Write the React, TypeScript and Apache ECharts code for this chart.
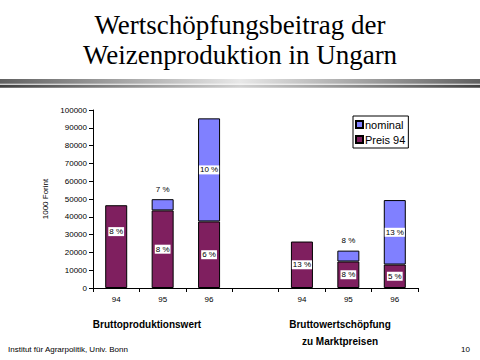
import React, { useEffect, useRef } from "react";
import * as echarts from "echarts";

const categories = ["94", "95", "96", "", "94", "95", "96"];
const preis94 = [46500, 43600, 37400, null, 26100, 14900, 13200];
const nominalExtra = [null, 6300, 57900, null, null, 6100, 36200];
const preisLabels = ["8 %", "8 %", "6 %", "", "13 %", "8 %", "5 %"];
const nominalLabels = ["", "7 %", "10 %", "", "", "8 %", "13 %"];
const yTicks = { min: 0, max: 100000, interval: 10000 };

const PREIS_COLOR = "#7f1f5f";
const NOM_COLOR = "#8080ff";

export default function App() {
  const ref = useRef<HTMLDivElement>(null);
  useEffect(() => {
    if (!ref.current) return;
    const chart = echarts.init(ref.current, null, { renderer: "svg" });
    const boxLabel = {
      show: true,
      position: "inside",
      color: "#000",
      backgroundColor: "#fff",
      fontFamily: "Liberation Sans",
      fontSize: 8,
      padding: [1, 1, 0, 1],
    };
    const preisData = preis94.map((v, i) => ({
      value: v,
      label: {
        ...boxLabel,
        formatter: preisLabels[i],
        show: !!preisLabels[i],
        offset: i === 0 ? [0, -15] : [0, 0],
      },
    }));
    const nomData = nominalExtra.map((v, i) => {
      const small = v != null && v < 10000;
      return {
        value: v,
        label: small
          ? {
              show: !!nominalLabels[i],
              position: "top",
              distance: 6,
              formatter: nominalLabels[i],
              color: "#000",
              fontFamily: "Liberation Sans",
              fontSize: 8,
            }
          : { ...boxLabel, formatter: nominalLabels[i], show: !!nominalLabels[i] },
      };
    });
    const gradTop = {
      type: "linear", x: 0, y: 0, x2: 1, y2: 0,
      colorStops: [
        { offset: 0, color: "#606060" },
        { offset: 0.5, color: "#e8e8e8" },
        { offset: 1, color: "#606060" },
      ],
    };
    const gradBot = {
      type: "linear", x: 0, y: 0, x2: 1, y2: 0,
      colorStops: [
        { offset: 0, color: "#404040" },
        { offset: 0.5, color: "#d0d0d0" },
        { offset: 1, color: "#404040" },
      ],
    };
    chart.setOption({
      animation: false,
      backgroundColor: "#fff",
      textStyle: { fontFamily: "Liberation Sans" },
      grid: { left: 93, top: 110, width: 325, height: 178, containLabel: false },
      legend: {
        data: ["nominal", "Preis 94"],
        orient: "vertical",
        left: 353,
        top: 116,
        itemWidth: 7,
        itemHeight: 7,
        itemGap: 4,
        padding: [3, 3, 3, 2],
        borderColor: "#000",
        borderWidth: 1,
        icon: "rect",
        textStyle: { fontSize: 11, color: "#000", fontFamily: "Liberation Sans", padding: [0, 0, 0, -3] },
      },
      xAxis: {
        type: "category",
        data: categories,
        axisLine: { lineStyle: { color: "#000", width: 1 } },
        axisTick: { show: true, length: 4, lineStyle: { color: "#000" } },
        axisLabel: { color: "#000", fontSize: 8, margin: 7 },
      },
      yAxis: {
        type: "value",
        min: yTicks.min,
        max: yTicks.max,
        interval: yTicks.interval,
        name: "1000 Forint",
        nameLocation: "middle",
        nameGap: 36,
        nameTextStyle: { fontSize: 8, color: "#000" },
        axisLine: { show: true, lineStyle: { color: "#000", width: 1 } },
        axisTick: { show: true, length: 4, lineStyle: { color: "#000" } },
        splitLine: { show: false },
        axisLabel: { color: "#000", fontSize: 8, margin: 6, formatter: (v: number) => String(v) },
      },
      series: [
        {
          name: "Preis 94",
          type: "bar",
          stack: "s",
          barWidth: 22,
          itemStyle: { color: PREIS_COLOR, borderColor: "#000", borderWidth: 1 },
          data: preisData,
        },
        {
          name: "nominal",
          type: "bar",
          stack: "s",
          barWidth: 22,
          itemStyle: { color: NOM_COLOR, borderColor: "#000", borderWidth: 1 },
          data: nomData,
        },
      ],
      graphic: [
        {
          type: "text", x: 240, y: 25,
          style: { text: "Wertschöpfungsbeitrag der", fontFamily: "Liberation Serif", fontSize: 27, fill: "#000", align: "center", verticalAlign: "middle" },
        },
        {
          type: "text", x: 240, y: 55,
          style: { text: "Weizenproduktion in Ungarn", fontFamily: "Liberation Serif", fontSize: 27, fill: "#000", align: "center", verticalAlign: "middle" },
        },
        { type: "rect", shape: { x: 0, y: 79, width: 480, height: 4.7 }, style: { fill: gradTop } },
        { type: "rect", shape: { x: 0, y: 84.7, width: 480, height: 3 }, style: { fill: gradBot } },
        {
          type: "text", x: 147, y: 324,
          style: { text: "Bruttoproduktionswert", fontFamily: "Liberation Sans", fontWeight: "bold", fontSize: 10, fill: "#000", align: "center", verticalAlign: "middle" },
        },
        {
          type: "text", x: 340, y: 324,
          style: { text: "Bruttowertschöpfung", fontFamily: "Liberation Sans", fontWeight: "bold", fontSize: 10, fill: "#000", align: "center", verticalAlign: "middle" },
        },
        {
          type: "text", x: 340, y: 341,
          style: { text: "zu Marktpreisen", fontFamily: "Liberation Sans", fontWeight: "bold", fontSize: 10, fill: "#000", align: "center", verticalAlign: "middle" },
        },
        {
          type: "text", x: 8, y: 349,
          style: { text: "Institut für Agrarpolitik, Univ. Bonn", fontFamily: "Liberation Sans", fontSize: 8, fill: "#000", align: "left", verticalAlign: "middle" },
        },
        {
          type: "text", x: 470, y: 349,
          style: { text: "10", fontFamily: "Liberation Sans", fontSize: 8, fill: "#000", align: "right", verticalAlign: "middle" },
        },
      ],
    });
    return () => chart.dispose();
  }, []);
  return <div ref={ref} style={{ width: 480, height: 360, position: "absolute", left: 0, top: 0 }} />;
}
